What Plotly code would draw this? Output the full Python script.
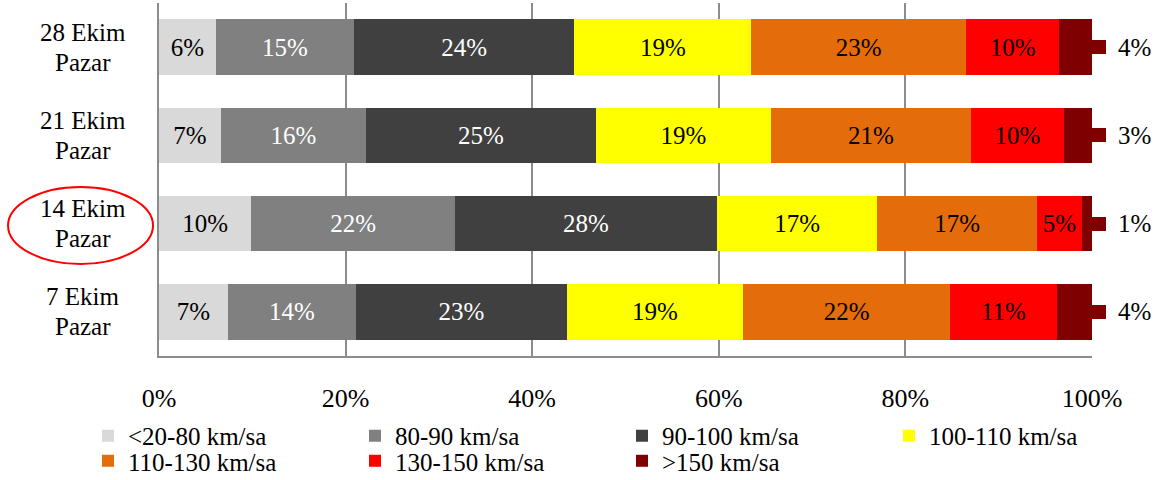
import plotly.graph_objects as go

categories = ["28 Ekim<br>Pazar", "21 Ekim<br>Pazar", "14 Ekim<br>Pazar", "7 Ekim<br>Pazar"]
series_names = ["<20-80 km/sa", "80-90 km/sa", "90-100 km/sa", "100-110 km/sa",
                "110-130 km/sa", "130-150 km/sa", ">150 km/sa"]
# values per series, in category order (28, 21, 14, 7 Ekim)
v_20_80 = [6.1, 6.6, 9.9, 7.4]
v_80_90 = [14.8, 15.6, 21.8, 13.7]
v_90_100 = [23.6, 24.6, 28.1, 22.6]
v_100_110 = [19.0, 18.8, 17.2, 18.9]
v_110_130 = [23.0, 21.4, 17.1, 22.2]
v_130_150 = [10.0, 10.0, 4.8, 11.4]
v_150 = [3.6, 3.0, 1.1, 3.8]
series_values = [v_20_80, v_80_90, v_90_100, v_100_110, v_110_130, v_130_150, v_150]
colors = ["#D9D9D9", "#808080", "#404040", "#FFFF00", "#E46C0A", "#FF0000", "#7F0000"]
text_colors = ["black", "white", "white", "black", "black", "black", "black"]
x_ticks = [0, 20, 40, 60, 80, 100]
x_tick_labels = ["0%", "20%", "40%", "60%", "80%", "100%"]

FONT = "Liberation Serif"
FS = 25

fig = go.Figure()
for i, (name, vals) in enumerate(zip(series_names, series_values)):
    last = i == len(series_names) - 1
    fig.add_trace(go.Bar(
        y=categories, x=vals, name=name, orientation="h",
        marker=dict(color=colors[i], line=dict(width=0)),
        text=None if last else [f"{round(v)}%" for v in vals],
        textposition="inside", insidetextanchor="middle",
        textfont=dict(family=FONT, size=FS, color=text_colors[i]),
        hoverinfo="skip",
        legend="legend" if i < 4 else "legend2",
    ))

annotations = []
for j, cat in enumerate(categories):
    # leader tab of the outside label
    annotations.append(dict(
        x=100, y=cat, xref="x", yref="y", text="&nbsp;", width=14, height=14,
        bgcolor=colors[-1], borderpad=0, borderwidth=0,
        showarrow=False, xanchor="left", yanchor="middle",
        font=dict(size=2, color=colors[-1]),
    ))
    annotations.append(dict(
        x=100, y=cat, xref="x", yref="y", text=f"{round(v_150[j])}%",
        showarrow=False, xanchor="left", xshift=24,
        font=dict(family=FONT, size=FS, color="black"),
    ))
    line1, line2 = cat.split("<br>")
    for txt, ys in ((line1, 15), (line2, -15)):
        annotations.append(dict(
            x=-0.0815, y=cat, xref="paper", yref="y", text=txt, yshift=ys,
            showarrow=False, xanchor="center", align="center",
            font=dict(family=FONT, size=FS, color="black"),
        ))

legend_common = dict(orientation="h", x=-0.0761, xanchor="left", yanchor="middle",
                     entrywidth=222, entrywidthmode="pixels", traceorder="normal",
                     font=dict(family=FONT, size=FS, color="black"),
                     itemclick=False, itemdoubleclick=False, bgcolor="rgba(0,0,0,0)")

fig.update_layout(
    width=1159, height=480,
    margin=dict(l=159, r=67, t=3, b=124, autoexpand=False),
    barmode="stack", bargap=0.37,
    plot_bgcolor="white", paper_bgcolor="white",
    font=dict(family=FONT, size=FS, color="black"),
    uniformtext=dict(minsize=FS, mode="show"),
    xaxis=dict(range=[0, 100], tickvals=x_ticks, ticktext=x_tick_labels,
               showgrid=True, gridcolor="#8C8C8C", gridwidth=2,
               showline=True, linecolor="#8C8C8C", linewidth=2,
               zeroline=False, ticks="", ticklabelstandoff=18,
               tickfont=dict(family=FONT, size=FS + 1, color="black"), fixedrange=True),
    yaxis=dict(autorange="reversed", showticklabels=False, showgrid=False,
               showline=True, linecolor="#8C8C8C", linewidth=2, ticks="",
               zeroline=False, fixedrange=True),
    legend=dict(y=-0.2266, **legend_common),
    legend2=dict(y=-0.2975, **legend_common),
    annotations=annotations,
    shapes=[dict(type="circle", xref="paper", yref="paper",
                 x0=-0.1618, x1=-0.0064, y0=0.2606, y1=0.4788,
                 line=dict(color="#FF0000", width=2), fillcolor="rgba(0,0,0,0)")],
    showlegend=True,
)

fig.write_html("out.html", config={"displayModeBar": False},
               post_script="document.body.style.margin='0';")
